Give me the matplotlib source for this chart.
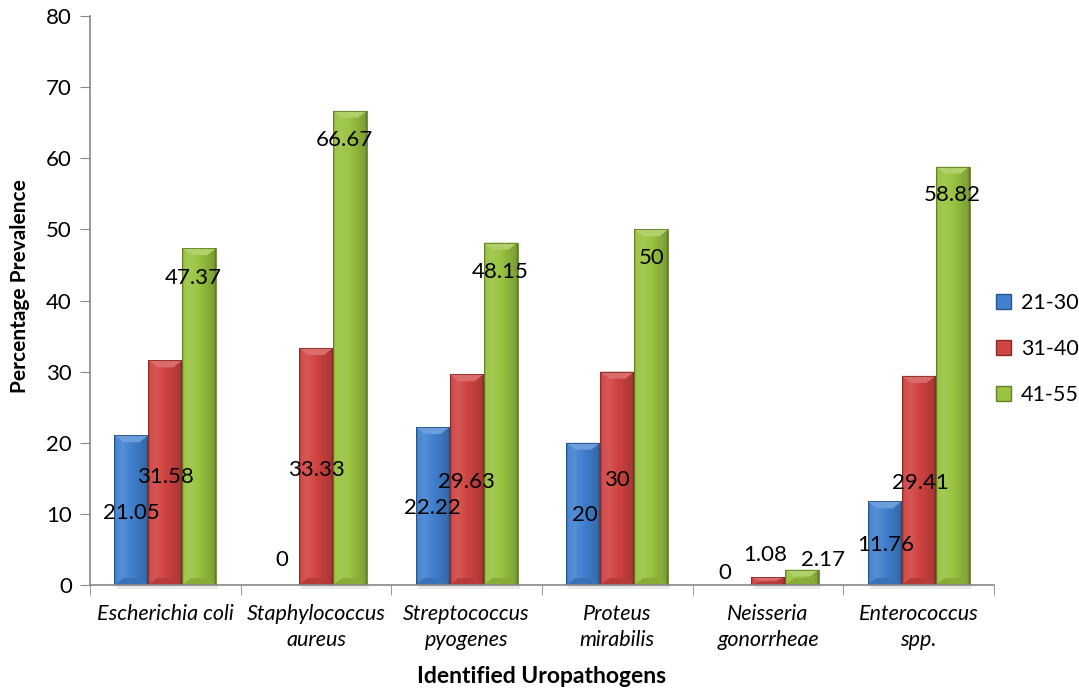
import numpy as np
import matplotlib
matplotlib.use("Agg")
import matplotlib.pyplot as plt
from matplotlib.colors import to_rgb
from matplotlib.patches import Polygon, Rectangle, Patch

plt.rcParams["font.family"] = ["Lato", "DejaVu Sans"]

pathogens = ["Escherichia coli", "Staphylococcus\naureus", "Streptococcus\npyogenes",
             "Proteus\nmirabilis", "Neisseria\ngonorrheae", "Enterococcus\nspp."]
groups = ["21-30", "31-40", "41-55"]
age_21_30 = [21.05, 0, 22.22, 20, 0, 11.76]
age_31_40 = [31.58, 33.33, 29.63, 30, 1.08, 29.41]
age_41_55 = [47.37, 66.67, 48.15, 50, 2.17, 58.82]
series = [age_21_30, age_31_40, age_41_55]
base_colors = ["#4181CF", "#D04441", "#99C340"]

# where the value labels sit: shift from bar centre (x) and height (y)
label_dx = [[0.00, 0.00, 0.00, 0.01, -0.06, 0.01],
            [0.00, 0.00, 0.00, 0.00, -0.02, 0.01],
            [-0.04, -0.04, 0.00, 0.00, 0.14, 0.00]]
label_y = [[10.1, 3.5, 10.8, 9.8, 1.7, 5.6],
           [15.2, 16.2, 14.5, 14.8, 4.2, 14.3],
           [43.2, 62.6, 44.0, 46.0, 3.5, 54.9]]


def shade(c, f):
    c = np.array(to_rgb(c))
    if f >= 0:
        return c + (1 - c) * f
    return c * (1 + f)


fig = plt.figure(figsize=(10.79, 6.94), dpi=100)
ax = fig.add_axes([0.0834, 0.157, 0.8378, 0.820])
ax.set_xlim(-0.5, len(pathogens) - 0.5)
ax.set_ylim(0, 80)

# pixel -> data scale for the bevel sizes
bb = ax.get_window_extent()
px_x = len(pathogens) / bb.width
px_y = 80 / bb.height

width = 0.2256
xs = np.arange(len(pathogens))
prof = np.interp(np.linspace(0, 1, 64), [0, 0.05, 0.25, 0.6, 0.95, 1],
                 [-0.35, 0.05, 0.10, -0.04, -0.18, -0.40])

for k, (vals, col) in enumerate(zip(series, base_colors)):
    grad = np.array([shade(col, f) for f in prof])[None, :, :]
    for i, v in enumerate(vals):
        xc = xs[i] + (k - 1) * width
        ax.text(xc + label_dx[k][i], label_y[k][i], f"{v:g}",
                ha="center", va="center", fontsize=16, zorder=5)
        if v <= 0:
            continue
        x0, x1 = xc - width / 2, xc + width / 2
        # soft shadow just under the base line
        ax.add_patch(Rectangle((x0 + 2 * px_x, -4 * px_y), width, 4 * px_y,
                               facecolor="#000000", alpha=0.08, edgecolor="none",
                               clip_on=False, zorder=1))
        im = ax.imshow(grad, extent=(x0, x1, 0, v), aspect="auto",
                       interpolation="bilinear", zorder=2)
        im.set_clip_path(Rectangle((x0, 0), width, v, transform=ax.transData))
        bh = min(7 * px_y, v * 0.45)
        bw = 9 * px_x
        ax.add_patch(Polygon([(x0, v), (x1, v), (x1 - bw, v - bh), (x0 + bw, v - bh)],
                             closed=True, facecolor=shade(col, 0.22),
                             edgecolor="none", zorder=3))
        ax.add_patch(Polygon([(x0, 0), (x1, 0), (x1 - bw, bh), (x0 + bw, bh)],
                             closed=True, facecolor=shade(col, -0.12),
                             edgecolor="none", zorder=3))
        ax.add_patch(Rectangle((x0, 0), width, v, facecolor="none",
                               edgecolor=shade(col, -0.35), linewidth=0.6,
                               zorder=4))

for s in ["top", "right"]:
    ax.spines[s].set_visible(False)
for s in ["left", "bottom"]:
    ax.spines[s].set_color("#888888")
    ax.spines[s].set_linewidth(1.2)
    ax.spines[s].set_zorder(6)

ax.set_yticks(np.arange(0, 81, 10))
ax.tick_params(axis="y", direction="out", length=7, color="#888888",
               labelsize=16, pad=6)
ax.set_xticks(xs)
ax.set_xticklabels(pathogens, fontsize=15.5, style="italic", linespacing=1.35)
ax.tick_params(axis="x", length=0, pad=14)
ax.set_xticks(np.arange(-0.5, len(pathogens)), minor=True)
ax.tick_params(axis="x", which="minor", direction="out", length=7, color="#888888")

ax.set_xlabel("Identified Uropathogens", fontsize=16.5, fontweight="bold")
ax.xaxis.set_label_coords(0.5, -0.142)
ax.set_ylabel("Percentage Prevalence", fontsize=15, fontweight="bold")
ax.yaxis.set_label_coords(-0.066, 0.525)

handles = [Patch(facecolor=c, edgecolor=shade(c, -0.35), label=g)
           for c, g in zip(base_colors, groups)]
fig.legend(handles=handles, loc="center left", bbox_to_anchor=(0.915, 0.497),
           frameon=False, fontsize=15.5, handlelength=0.7, handleheight=0.7,
           handletextpad=0.45, labelspacing=1.2, borderaxespad=0.0)

fig.savefig("out.png", dpi=100)
